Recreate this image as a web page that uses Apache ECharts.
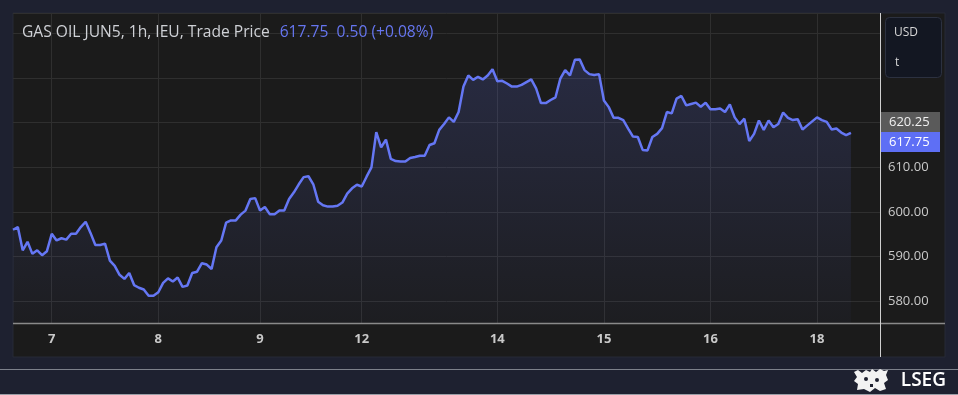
<!DOCTYPE html>
<html>
<head>
<meta charset="utf-8">
<script src="https://cdn.jsdelivr.net/npm/echarts@6/dist/echarts.min.js"></script>
<style>
html,body{margin:0;padding:0;background:#1e2130;}
#c{width:958px;height:395px;}
</style>
</head>
<body>
<div id="c"></div>
<script>
// ---- data ----
const prices = [
596.0,596.6,591.4,593.3,590.6,591.4,590.3,591.2,595.1,593.6,
594.1,593.8,595.1,595.1,596.6,597.8,595.3,592.6,592.6,592.9,
589.1,587.9,585.9,585.0,586.3,583.6,583.0,582.6,581.2,581.2,
582.0,584.1,585.1,584.4,585.3,583.2,583.5,586.3,586.6,588.5,
588.2,587.2,592.1,593.6,597.6,598.1,598.1,599.4,600.3,602.9,
603.1,600.3,601.1,599.5,599.5,600.3,600.3,602.9,604.4,606.2,
607.8,608.0,606.2,602.3,601.5,601.2,601.2,601.4,602.1,604.1,
605.3,606.1,605.7,607.9,610.0,617.9,614.5,616.2,611.9,611.4,
611.3,611.3,612.1,612.3,612.6,612.6,615.0,615.4,618.4,619.7,
621.2,620.2,622.4,628.1,630.6,629.6,630.3,629.7,630.6,632.0,
629.3,629.4,628.8,628.1,628.1,628.5,629.1,629.7,627.7,624.4,
624.4,625.1,625.7,629.9,631.8,630.6,634.1,634.2,631.8,630.9,
630.7,630.9,625.0,623.5,621.1,621.1,620.6,618.7,616.9,616.8,
613.9,613.8,616.8,617.5,618.8,622.4,622.1,625.4,626.0,623.9,
624.2,624.5,623.6,624.5,623.0,623.0,623.2,622.4,624.1,621.2,
619.7,620.9,615.9,617.5,620.5,618.4,620.5,619.0,619.7,622.3,
621.1,620.6,620.8,618.5,619.4,620.3,621.2,620.6,620.2,618.5,
618.7,617.8,617.2,617.75
];
const dayLabels = ['7','8','9','12','14','15','16','18'];
const dayLabelIndex = [8,30,51,72,100,122,144,166];
const totalSlots = 180;
const lastPrice = 617.75;
const refPrice = 620.25;
const titleMain = 'GAS OIL JUN5, 1h, IEU, Trade Price';
const titleQuote = '617.75  0.50 (+0.08%)';

const categories = [];
for (let i = 0; i < totalSlots; i++) categories.push('');
dayLabelIndex.forEach((idx, k) => { categories[idx] = dayLabels[k]; });

const chart = echarts.init(document.getElementById('c'), null, {renderer: 'canvas'});
const FONT = '"Open Sans", Roboto, sans-serif';
const showTick = (i, v) => v !== '';

const frame = [
  {id: 'panel', type: 'rect', z: -10, shape: {x: 13, y: 13, width: 932, height: 344},
   style: {fill: '#1b1b1b', stroke: '#262a36', lineWidth: 1}},
  {id: 'xline', type: 'line', z: 50, shape: {x1: 13, y1: 323.5, x2: 945, y2: 323.5},
   style: {stroke: '#8a8a8a', lineWidth: 1.5}},
  {id: 'vline', type: 'line', z: 50, shape: {x1: 880.5, y1: 13, x2: 880.5, y2: 357},
   style: {stroke: '#cfcfcf', lineWidth: 1}},
  {id: 'sep1', type: 'line', z: 50, shape: {x1: 0, y1: 369.5, x2: 958, y2: 369.5},
   style: {stroke: '#7d818b', lineWidth: 1}},
  {id: 'sep2', type: 'line', z: 50, shape: {x1: 0, y1: 394.5, x2: 958, y2: 394.5},
   style: {stroke: '#9a9ea6', lineWidth: 1}},
  {id: 'ubox', type: 'rect', z: 50, shape: {x: 885.5, y: 17.5, width: 56, height: 60, r: 4},
   style: {fill: '#131722', stroke: '#2c3140', lineWidth: 1}},
  {id: 'usd', type: 'text', z: 51, style: {x: 894, y: 33, text: 'USD', fill: '#d6d6d6', font: '12px ' + FONT, verticalAlign: 'middle'}},
  {id: 'unit', type: 'text', z: 51, style: {x: 895, y: 63, text: 't', fill: '#d6d6d6', font: '12px ' + FONT, verticalAlign: 'middle'}},
  {id: 'lseg', type: 'text', z: 51, style: {x: 946, y: 381, text: 'LSEG', fill: '#ffffff', font: '600 19px ' + FONT, align: 'right', verticalAlign: 'middle'}},
  // simplified crest emblem
  {id: 'crest', type: 'polygon', z: 51, shape: {points: [
    [854,372],[858,370],[862,373],[866,370],[870,372],[872,369],[876,372],[880,369],[884,371],[888,370],
    [886,375],[888,380],[884,383],[886,389],[880,391],[875,388],[870,392],[864,389],[857,390],[858,384],
    [854,381],[857,377]
  ]}, style: {fill: '#f2f2f2'}},
  {id: 'crestHole1', type: 'circle', z: 52, shape: {cx: 866, cy: 379, r: 2}, style: {fill: '#1e2130'}},
  {id: 'crestHole2', type: 'circle', z: 52, shape: {cx: 877, cy: 380, r: 2}, style: {fill: '#1e2130'}},
  {id: 'crestHole3', type: 'rect', z: 52, shape: {x: 870, y: 384, width: 3, height: 3}, style: {fill: '#1e2130'}}
];

chart.setOption({
  backgroundColor: '#1e2130',
  animation: false,
  title: {
    left: 22, top: 24, padding: 0,
    text: '{a|' + titleMain + '}  {b|' + titleQuote + '}',
    textStyle: {
      rich: {
        a: {color: '#cfd1d6', fontSize: 15.6, fontWeight: 'normal', fontFamily: FONT},
        b: {color: '#6676f0', fontSize: 15.6, fontWeight: 'normal', fontFamily: FONT}
      }
    }
  },
  graphic: frame,
  grid: {left: 13, right: 78, top: 13, bottom: 72, containLabel: false},
  xAxis: {
    type: 'category',
    data: categories,
    boundaryGap: false,
    axisLine: {show: false},
    axisTick: {show: false},
    axisLabel: {
      interval: showTick, color: '#c9c9c9', fontSize: 13, fontWeight: 'bold',
      fontFamily: FONT, margin: 10
    },
    splitLine: {show: true, interval: showTick, lineStyle: {color: '#2f2f2f', width: 1}}
  },
  yAxis: {
    type: 'value',
    position: 'right',
    min: 575.1, max: 644.6,
    splitNumber: 7,
    axisLine: {show: false},
    axisTick: {show: false},
    axisLabel: {
      showMinLabel: false, showMaxLabel: false,
      color: '#c9c9c9', fontSize: 13, fontFamily: FONT, margin: 8,
      formatter: v => (v >= 620 ? '' : v.toFixed(2))
    },
    splitLine: {show: true, lineStyle: {color: '#2f2f2f', width: 1}}
  },
  series: [{
    type: 'line',
    data: prices,
    showSymbol: false,
    symbol: 'none',
    lineStyle: {color: '#6577f4', width: 2.5},
    areaStyle: {
      color: new echarts.graphic.LinearGradient(0, 0, 0, 1, [
        {offset: 0, color: 'rgba(98,115,242,0.26)'},
        {offset: 1, color: 'rgba(98,115,242,0.04)'}
      ])
    }
  }]
});

// price tags on the right axis, placed through the axis scale
const yRef = chart.convertToPixel({yAxisIndex: 0}, refPrice);
const tagTop = Math.round(yRef - 10);
chart.setOption({
  graphic: frame.concat([
    {id: 'refTag', type: 'rect', z: 60, shape: {x: 881, y: tagTop, width: 59, height: 20},
     style: {fill: '#5a5a5a'}},
    {id: 'refTxt', type: 'text', z: 61, style: {x: 889, y: tagTop + 10, text: refPrice.toFixed(2), fill: '#f0f0f0', font: '13px ' + FONT, verticalAlign: 'middle'}},
    {id: 'lastTag', type: 'rect', z: 60, shape: {x: 881, y: tagTop + 20, width: 59, height: 20},
     style: {fill: '#5e6ff5'}},
    {id: 'lastTxt', type: 'text', z: 61, style: {x: 889, y: tagTop + 30, text: lastPrice.toFixed(2), fill: '#ffffff', font: '13px ' + FONT, verticalAlign: 'middle'}}
  ])
});
</script>
</body>
</html>
